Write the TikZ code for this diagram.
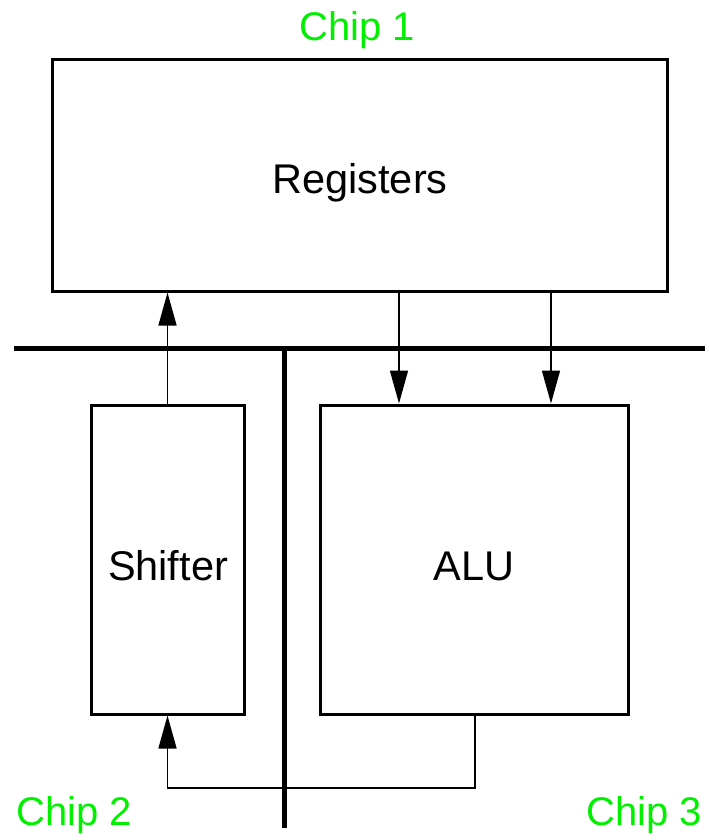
\documentclass[tikz,border=0pt]{standalone}
\usepackage{fontspec}
\setmainfont{Liberation Sans}
\usetikzlibrary{arrows.meta}
\definecolor{chipgreen}{RGB}{0,240,0}
\begin{document}
\begin{tikzpicture}[x=1pt,y=-1pt,
  box/.style={draw,line width=3pt,inner sep=0pt},
  lbl/.style={inner sep=0pt,font=\fontsize{41.5}{48}\selectfont},
  bus/.style={line width=5pt},
  arr/.style={line width=1.5pt,-{Triangle[length=33pt,width=18pt]}},
  chip/.style={text=chipgreen,font=\fontsize{40}{46}\selectfont,inner sep=0pt}]
\useasboundingbox (0,0) rectangle (709,840);
\node[box,minimum width=615pt,minimum height=231pt] (reg) at (359.5,175.5) {};
\node[box,minimum width=153pt,minimum height=309pt] (sh) at (167.5,559.5) {};
\node[box,minimum width=308pt,minimum height=309pt] (alu) at (474,559.5) {};
\node[chip] (t1) at (357,30) {Chip 1};
\node[chip] (t2) at (74,815) {Chip 2};
\node[chip] (t3) at (644,815) {Chip 3};
\node[lbl] (lreg) at (360,183) {Registers};
\node[lbl] (lsh) at (168,566) {Shifter};
\node[lbl] (lalu) at (474,566) {ALU};
\coordinate (hl) at (14,348);
\coordinate (hr) at (705,348);
\coordinate (vt) at (284,348);
\coordinate (vb) at (284,828);
\draw[bus] (hl) -- (hr);
\draw[bus] (vt) -- (vb);
\coordinate (xa) at (399,0);
\coordinate (xb) at (551,0);
\coordinate (xr) at (475,0);
\coordinate (yb) at (0,788);
\draw[arr] (sh.north) -- (sh.north |- reg.south);
\draw[arr] (reg.south -| xa) -- (alu.north -| xa);
\draw[arr] (reg.south -| xb) -- (alu.north -| xb);
\draw[arr] (alu.south -| xr) -- (xr |- yb) -- (sh.south |- yb) -- (sh.south);
\end{tikzpicture}
\end{document}
